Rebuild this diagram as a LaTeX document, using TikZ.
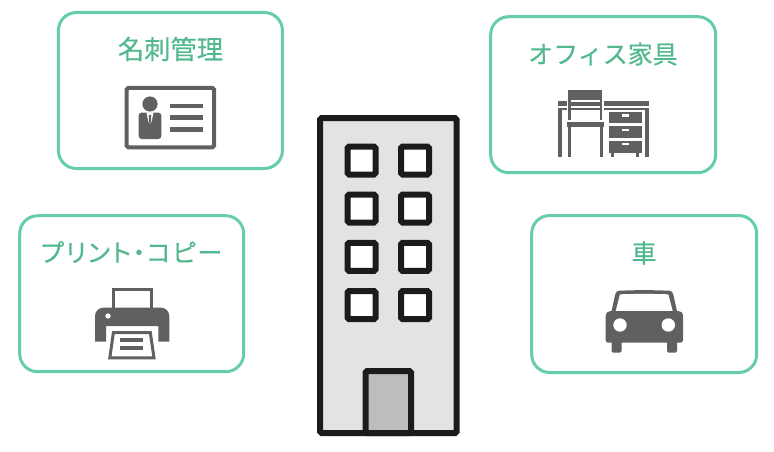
\documentclass[tikz,border=0pt]{standalone}
\usepackage{fontspec}
\newfontfamily\cjk[FakeBold=0.3]{Noto Sans CJK JP}
\newfontfamily\cjkp[FakeBold=0.3,RawFeature=+palt,LetterSpace=7]{Noto Sans CJK JP}
\definecolor{framegreen}{HTML}{66CDA9}
\definecolor{textgreen}{HTML}{52B98F}
\definecolor{icongray}{HTML}{606060}
\definecolor{wallink}{HTML}{1A1C1B}
\definecolor{wallfill}{HTML}{E3E3E3}
\definecolor{doorfill}{HTML}{BDBDBD}
\tikzset{
  panel/.style={draw=framegreen,line width=3pt,rounded corners=18pt,fill=white,inner sep=0pt},
  heading/.style={text=textgreen,inner sep=0pt,font=\cjk\fontsize{25}{30}\selectfont},
  ink/.style={fill=icongray,draw=none},
  blank/.style={fill=white,draw=none},
  wall/.style={draw=wallink,line width=6pt,rounded corners=1.5pt},
  pane/.style={wall,fill=white},
}
\begin{document}
\begin{tikzpicture}[x=1pt,y=-1pt]
\useasboundingbox (0,0) rectangle (774,452);
\fill[white] (0,0) rectangle (774,452);
% panels
\node[panel,minimum width=224pt,minimum height=156pt] (cardpanel) at (170.4,90.5) {};
\node[panel,minimum width=225pt,minimum height=156pt] (deskpanel) at (603.2,94.7) {};
\node[panel,minimum width=224pt,minimum height=156pt] (printpanel) at (131.7,293.7) {};
\node[panel,minimum width=225pt,minimum height=157pt] (carpanel) at (644.2,294) {};
% headings
\node[heading,font=\cjk\fontsize{26.3}{30}\selectfont] (cardtitle) at (170.5,49) {名刺管理};
\node[heading] (desktitle) at (603,54) {オフィス家具};
\node[heading,font=\cjkp\fontsize{25}{28}\selectfont] (printtitle) at (131.5,252) {プリント・コピー};
\node[heading] (cartitle) at (644,253) {車};
% building
\draw[wall,fill=wallfill] (320,118) rectangle (456.5,433);
\foreach \py in {146.5,194.5,242.8,291.2}{
  \draw[pane] (347.5,\py) rectangle (375.5,\py+28);
  \draw[pane] (401,\py) rectangle (429,\py+28);
}
\draw[wall,fill=doorfill] (365.5,433) -- (365.5,371) -- (411,371) -- (411,433) -- cycle;
% ID card
\draw[draw=icongray,line width=4pt,rounded corners=1.5pt,fill=white] (126.7,88) rectangle (214,147.3);
\fill[icongray] (150,104) circle (7.6);
\fill[icongray,rounded corners=3pt] (138.7,112.5) -- (161.3,112.5) -- (161.3,139) -- (138.7,139) -- cycle;
\fill[white] (146.5,112.3) -- (153.5,112.3) -- (151.6,122) -- (150,123.5) -- (148.4,122) -- cycle;
\fill[icongray] (148.6,114.8) -- (151.4,114.8) -- (150.9,117) -- (151.2,122) -- (150,123) -- (148.8,122) -- (149.1,117) -- cycle;
\fill[icongray] (170,103.8) rectangle (202.7,108.3);
\fill[icongray] (170,115.4) rectangle (202.7,120);
\fill[icongray] (170,127) rectangle (202.7,131.6);
% desk
\fill[ink] (558,101) rectangle (648.7,105.7);
\fill[ink] (558,107.7) rectangle (648.7,109.6);
\fill[ink] (558,107.7) rectangle (562.3,156.7);
\fill[ink] (644.7,107.7) rectangle (648.7,156.7);
\fill[ink] (609,111.7) rectangle (641.7,123.3);
\fill[ink] (609,126) rectangle (641.7,137.7);
\fill[ink] (609,140.7) rectangle (641.7,153.3);
\fill[ink] (611,153.3) rectangle (614.3,156.7);
\fill[ink] (636,153.3) rectangle (639.3,156.7);
\fill[blank] (621.7,114) rectangle (629,116.5);
\fill[blank] (621.7,128.5) rectangle (629,130.8);
\fill[blank] (621.7,143) rectangle (629,145.4);
% chair
\fill[blank] (566.8,98) rectangle (604,122.3);
\fill[blank] (565.5,121) rectangle (605.2,156.7);
\fill[ink] (568.3,90) rectangle (602.3,100);
\fill[ink] (568.3,100) rectangle (571,120);
\fill[ink] (600,100) rectangle (602.3,120);
\fill[ink] (571,101.5) rectangle (600,105.7);
\fill[ink] (571,107.7) rectangle (600,109.6);
\fill[ink] (566.7,122.3) rectangle (604,126.7);
\fill[ink] (568.3,126.7) rectangle (571,156.7);
\fill[ink] (600,126.7) rectangle (603.3,156.7);
% printer
\draw[draw=icongray,line width=3pt,fill=white] (113.2,312) -- (113.2,289.2) -- (151.2,289.2) -- (151.2,312);
\fill[ink] (95,341.7) -- (95,316) arc (180:270:8.3) -- (161,307.7) arc (270:360:8.3) -- (169.3,341.7) -- (158.3,341.7) -- (158.3,326) -- (106,326) -- (106,341.7) -- cycle;
\fill[blank] (108,316) circle (2.7);
\draw[draw=icongray,line width=3pt,fill=white,line join=miter] (113.4,332.5) -- (150.3,332.5) -- (154,357.8) -- (109.8,357.8) -- cycle;
\fill[ink] (120,338) rectangle (143.3,342);
\fill[ink] (120,346.3) rectangle (143.3,350.3);
% car
\fill[ink,rounded corners=1.5pt] (610.5,316) -- (615.5,293) -- (617.5,290.7) -- (644,290) -- (671,290.7) -- (673,293) -- (678,316) -- cycle;
\fill[blank] (620,294.3) -- (644,293.8) -- (668.3,294.3) -- (672.7,311) -- (615.7,311) -- cycle;
\fill[ink,rounded corners=2.5pt] (605.7,342.7) -- (605.7,313.5) -- (609,311) -- (680,311) -- (683,313.5) -- (683,342.7) -- cycle;
\fill[ink,rounded corners=1.5pt] (611.5,340) rectangle (621.5,352.7);
\fill[ink,rounded corners=1.5pt] (667,340) rectangle (677,352.7);
\fill[blank] (620,325) circle (6.7);
\fill[blank] (668.3,325) circle (6.7);
\end{tikzpicture}
\end{document}
